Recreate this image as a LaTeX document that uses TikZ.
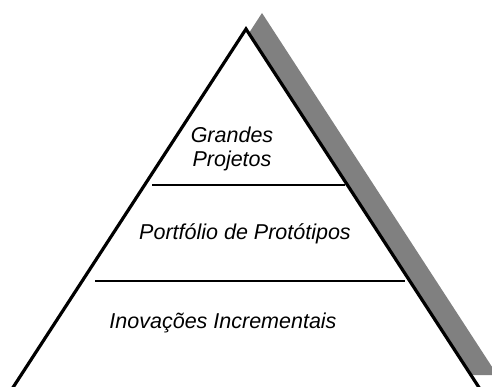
\documentclass[tikz,border=0pt]{standalone}
\usepackage{fontspec}
\setmainfont{Liberation Sans}
\begin{document}
\begin{tikzpicture}[x=1pt,y=-1pt,
  edge/.style={line width=3.2pt,line join=miter},
  divider/.style={line width=1.3pt},
  label/.style={font=\fontsize{21.5}{24}\selectfont\itshape,anchor=base,inner sep=0pt}]
\useasboundingbox (0,0) rectangle (492,387);
\clip (0,0) rectangle (492,387);
% vertices
\coordinate (apex) at (246,29);
\coordinate (bl) at (10.7,391);
\coordinate (br) at (481.3,391);
% shadow
\fill[black!50] ([shift={(16,-16)}]apex) -- ([shift={(16,-16)}]br) -- ([shift={(16,-16)}]bl) -- cycle;
% main triangle
\draw[edge,fill=white] (bl) -- (apex) -- (br);
% dividers
\coordinate (d1l) at (152,185);
\coordinate (d1r) at (345,185);
\coordinate (d2l) at (95,281);
\coordinate (d2r) at (405,281);
\draw[divider] (d1l) -- (d1r);
\draw[divider] (d2l) -- (d2r);
% labels
\node[label] (g1) at (232,143) {Grandes};
\node[label] (g2) at (232,167) {Projetos};
\node[label] (p) at (245,240) {Portfólio de Protótipos};
\node[label] (i) at (223,328) {Inovações Incrementais};
\end{tikzpicture}
\end{document}
